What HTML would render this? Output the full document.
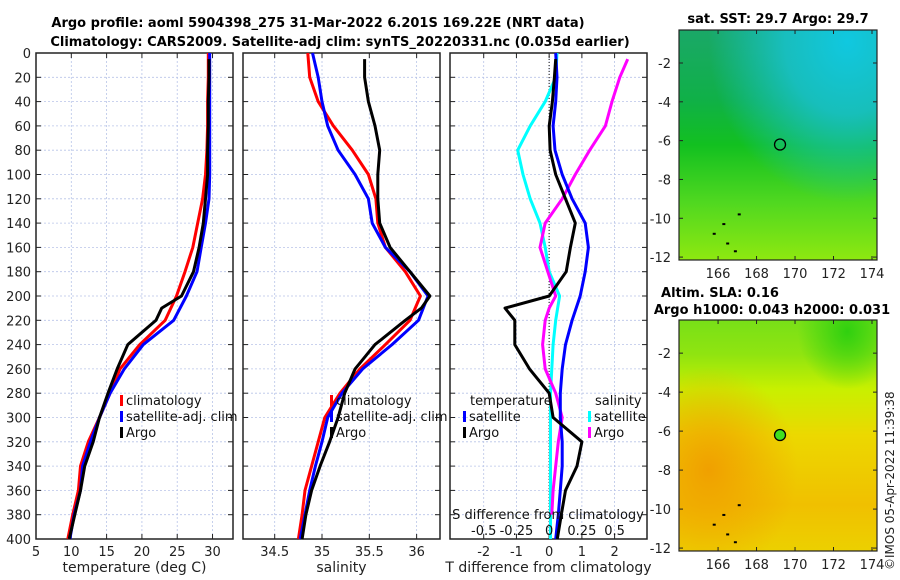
<!DOCTYPE html>
<html><head><meta charset="utf-8"><style>
body{margin:0;background:#fff;}
svg{display:block;font-family:"DejaVu Sans","Liberation Sans",sans-serif;}
</style></head><body>
<svg id="chart" width="900" height="580" viewBox="0 0 900 580" xmlns="http://www.w3.org/2000/svg">
<defs>
<linearGradient id="sstBase" x1="0" y1="0" x2="0" y2="1">
<stop offset="0" stop-color="#1aa868"/><stop offset="0.3" stop-color="#10b048"/><stop offset="0.5" stop-color="#12c020"/><stop offset="0.75" stop-color="#50d820"/><stop offset="1" stop-color="#8ee810"/></linearGradient>
<radialGradient id="sstCyan" cx="0.85" cy="0.05" r="0.7"><stop offset="0" stop-color="#10c8e0"/><stop offset="0.45" stop-color="#18c0c8" stop-opacity="0.9"/><stop offset="1" stop-color="#18c0c8" stop-opacity="0"/></radialGradient>
<linearGradient id="slaBase" x1="0" y1="0" x2="0" y2="1">
<stop offset="0" stop-color="#78e018"/><stop offset="0.15" stop-color="#90e410"/><stop offset="0.3" stop-color="#c8f000"/><stop offset="0.5" stop-color="#ecd800"/><stop offset="0.8" stop-color="#f0c000"/><stop offset="1" stop-color="#ecd000"/></linearGradient>
<radialGradient id="slaOrange" cx="0.15" cy="0.65" r="0.45"><stop offset="0" stop-color="#f0a000"/><stop offset="1" stop-color="#f0a000" stop-opacity="0"/></radialGradient>
<radialGradient id="slaGreen" cx="0.85" cy="0.05" r="0.25"><stop offset="0" stop-color="#30d010"/><stop offset="1" stop-color="#30d010" stop-opacity="0"/></radialGradient>
</defs>
<g id="titles" font-weight="bold" font-size="13" text-anchor="middle">
<text x="318" y="27">Argo profile: aoml 5904398_275 31-Mar-2022 6.201S 169.22E (NRT data)</text>
<text x="340" y="46">Climatology: CARS2009. Satellite-adj clim: synTS_20220331.nc (0.035d earlier)</text>
<text x="778" y="23">sat. SST: 29.7 Argo: 29.7</text>
<text x="720" y="297">Altim. SLA: 0.16</text>
<text x="772" y="314">Argo h1000: 0.043 h2000: 0.031</text>
</g>
<g id="maps"></g>
<g id="panels"></g>
<text transform="translate(894,570) rotate(-90)" font-size="12" fill="#222">©IMOS 05-Apr-2022 11:39:38</text>
</svg>
<script>
const depths=[0,20,40,60,80,100,120,140,160,180,200,220,240,260,280,300,320,340,360,380,400];
const tempClim=[29.4,29.4,29.3,29.3,29.2,29.0,28.6,27.9,27.2,26.1,24.9,23.3,19.7,16.9,15.5,14.0,12.4,11.3,11.0,10.2,9.5];
const tempSat=[29.6,29.6,29.6,29.6,29.6,29.6,29.5,29.0,28.4,27.8,26.3,24.5,20.2,17.5,15.5,14.0,12.7,11.6,11.3,10.4,9.8];
const argoDepths=[5,20,40,60,80,100,120,140,160,180,200,210,220,240,260,280,300,320,340,360,380,400];
const tempArgo=[29.5,29.5,29.4,29.4,29.3,29.3,29.0,28.7,28.1,27.3,25.6,22.8,22.0,18.0,16.5,15.2,14.0,13.1,11.9,11.3,10.5,9.7];
const salClim=[34.85,34.87,34.96,35.12,35.32,35.49,35.57,35.59,35.67,35.88,36.04,35.93,35.67,35.40,35.19,35.03,34.96,34.89,34.82,34.79,34.75];
const salSat=[34.90,34.96,35.00,35.06,35.17,35.35,35.49,35.53,35.67,35.93,36.12,36.02,35.74,35.43,35.21,35.06,35.00,34.93,34.87,34.82,34.77];
const salArgo=[35.45,35.45,35.49,35.56,35.61,35.59,35.59,35.61,35.72,35.93,36.14,36.05,35.88,35.56,35.35,35.24,35.17,35.08,34.98,34.89,34.83,34.79];
const dTSat=[0.2,0.24,0.2,0.12,0.18,0.4,0.7,1.1,1.2,1.1,0.95,0.7,0.5,0.4,0.34,0.34,0.4,0.4,0.34,0.28,0.2];
const dTArgo=[0.2,0.16,0.1,0.0,0.03,0.2,0.5,0.8,0.65,0.52,0.0,-1.35,-1.05,-1.05,-0.6,0.0,0.12,1.0,0.85,0.5,0.37,0.25];
const dSSat=[0.06,0.05,-0.03,-0.145,-0.24,-0.2,-0.145,-0.07,-0.03,0.0,0.08,0.05,0.03,0.02,0.01,0.01,0.01,0.01,0.01,0.01,0.01];
const dSArgo=[0.6,0.54,0.48,0.43,0.31,0.2,0.1,-0.03,-0.07,-0.01,0.05,0.0,-0.03,-0.05,-0.03,0.05,0.1,0.07,0.05,0.03,0.02];
const tTicks=[5,10,15,20,25,30];
const sTicks=[34.5,35,35.5,36];
const dTTicks=[-2,-1,0,1,2];
const dSTicks=[-0.5,-0.25,0,0.25,0.5];
const dSTickLabels=["-0.5","-0.25","0","0.25","0.5"];
const depthTicks=[0,20,40,60,80,100,120,140,160,180,200,220,240,260,280,300,320,340,360,380,400];
const latTicks=[-2,-4,-6,-8,-10,-12];
const lonTicks=[166,168,170,172,174];
const argoLon=169.22, argoLat=-6.201;

const NS="http://www.w3.org/2000/svg";
function mk(tag,attrs,parent,txt){const e=document.createElementNS(NS,tag);for(const k in attrs)e.setAttribute(k,attrs[k]);if(txt!==undefined)e.textContent=txt;parent.appendChild(e);return e;}
const PT=53,PB=539;
const yD=d=>PT+(d/400)*(PB-PT);
const panels=document.getElementById('panels');
function panel(name,x0,x1,vmin,vmax,ticks,labels,xlabel,showY){
  const g=mk('g',{},panels);
  
  
  const sx=v=>x0+(v-vmin)/(vmax-vmin)*(x1-x0);
  depthTicks.forEach(d=>{const l=mk('line',{x1:x0,x2:x1,y1:yD(d),y2:yD(d),stroke:'#b8c4e8','stroke-width':0.8,'stroke-dasharray':'2,2'},g);
    
    mk('line',{x1:x0,x2:x0+5,y1:yD(d),y2:yD(d),stroke:'#222'},g);mk('line',{x1:x1-5,x2:x1,y1:yD(d),y2:yD(d),stroke:'#222'},g);
    if(showY){const t=mk('text',{x:x0-5,y:yD(d)+5,'font-size':13,'text-anchor':'end',fill:'#222'},g,String(d));}
  });
  ticks.forEach((v,i)=>{const x=sx(v);
    const l=mk('line',{x1:x,x2:x,y1:PT,y2:PB,stroke:'#b8c4e8','stroke-width':0.8,'stroke-dasharray':'2,2'},g);
    
    mk('line',{x1:x,x2:x,y1:PT,y2:PT+5,stroke:'#222'},g);mk('line',{x1:x,x2:x,y1:PB-5,y2:PB,stroke:'#222'},g);
    const t=mk('text',{x:x,y:PB+17,'font-size':13,'text-anchor':'middle',fill:'#222'},g,labels[i]);
    
  });
  const xt=mk('text',{x:(x0+x1)/2,y:PB+33,'font-size':14,'text-anchor':'middle',fill:'#222'},g,xlabel);
  
  const r=mk('rect',{x:x0,y:PT,width:x1-x0,height:PB-PT,fill:'none',stroke:'#222','stroke-width':1.5},g);
  
  return {g,sx};
}
function line(p,vals,ds,color,name,sx){
  const pts=vals.map((v,i)=>sx(v).toFixed(1)+','+yD(ds[i]).toFixed(1)).join(' ');
  const l=mk('polyline',{points:pts,fill:'none',stroke:color,'stroke-width':3,'stroke-linejoin':'round'},p.g);
  
}
function legend(g,x,y,color,label,name){
  const m=mk('rect',{x:x,y:y-10,width:3,height:11,fill:color},g);
  
  const t=mk('text',{x:x+6,y:y,'font-size':13,fill:'#111'},g,label);
  
}
// Panel 1 temperature
const p1=panel('temperature-panel',36,233,5,32.9,tTicks,tTicks.map(String),'temperature (deg C)',true);
line(p1,tempClim,depths,'#ff0000','temp-climatology-line',p1.sx);
line(p1,tempSat,depths,'#0000ff','temp-satellite-line',p1.sx);
line(p1,tempArgo,argoDepths,'#000000','temp-argo-line',p1.sx);
legend(p1.g,120,405,'#ff0000','climatology','legend-climatology');
legend(p1.g,120,421,'#0000ff','satellite-adj. clim','legend-satellite');
legend(p1.g,120,437,'#000000','Argo','legend-argo');
// Panel 2 salinity
const p2=panel('salinity-panel',243,440,34.165,36.247,sTicks,sTicks.map(String),'salinity',false);
line(p2,salClim,depths,'#ff0000','sal-climatology-line',p2.sx);
line(p2,salSat,depths,'#0000ff','sal-satellite-line',p2.sx);
line(p2,salArgo,argoDepths,'#000000','sal-argo-line',p2.sx);
legend(p2.g,330,405,'#ff0000','climatology','legend-climatology');
legend(p2.g,330,421,'#0000ff','satellite-adj. clim','legend-satellite');
legend(p2.g,330,437,'#000000','Argo','legend-argo');
// Panel 3 differences
const p3=panel('difference-panel',450,647,-3.03,2.99,dTTicks,dTTicks.map(String),'T difference from climatology',false);
const sxS=v=>p3.sx(v*4);
const zl=mk('line',{x1:p3.sx(0),x2:p3.sx(0),y1:PT,y2:PB,stroke:'#333','stroke-width':1.2,'stroke-dasharray':'1,2'},p3.g);

line(p3,dSSat,depths,'#00ffff','sal-diff-satellite-line',sxS);
line(p3,dSArgo,argoDepths,'#ff00ff','sal-diff-argo-line',sxS);
line(p3,dTSat,depths,'#0000ff','temp-diff-satellite-line',p3.sx);
line(p3,dTArgo,argoDepths,'#000000','temp-diff-argo-line',p3.sx);
const st=mk('text',{x:548,y:519,'font-size':13,'text-anchor':'middle',fill:'#111'},p3.g,'S difference from climatology');

dSTicks.forEach((v,i)=>{const t=mk('text',{x:sxS(v),y:535,'font-size':13,'text-anchor':'middle',fill:'#111'},p3.g,dSTickLabels[i]);
  });
const lt=mk('text',{x:470,y:405,'font-size':13,fill:'#111'},p3.g,'temperature');
const ls=mk('text',{x:595,y:405,'font-size':13,fill:'#111'},p3.g,'salinity');
legend(p3.g,463,421,'#0000ff','satellite','legend-temp-satellite');
legend(p3.g,463,437,'#000000','Argo','legend-temp-argo');
legend(p3.g,588,421,'#00ffff','satellite','legend-sal-satellite');
legend(p3.g,588,437,'#ff00ff','Argo','legend-sal-argo');
// Maps
const maps=document.getElementById('maps');
function map(name,y0,y1,fills,dotFill){
  const g=mk('g',{},maps);
  
  
  const x0=679,x1=877,lonMin=163.97,lonMax=174.26,latTop=-0.3,latBot=-12.15;
  const sx=v=>x0+(v-lonMin)/(lonMax-lonMin)*(x1-x0);
  const sy=v=>y0+(v-latTop)/(latBot-latTop)*(y1-y0);
  fills.forEach(f=>mk('rect',{x:x0,y:y0,width:x1-x0,height:y1-y0,fill:f},g));
  latTicks.forEach(v=>{mk('line',{x1:x0,x2:x0+4,y1:sy(v),y2:sy(v),stroke:'#222'},g);mk('line',{x1:x1-4,x2:x1,y1:sy(v),y2:sy(v),stroke:'#222'},g);
    const t=mk('text',{x:x0-8,y:sy(v)+5,'font-size':13,'text-anchor':'end',fill:'#222'},g,String(v));});
  lonTicks.forEach(v=>{mk('line',{x1:sx(v),x2:sx(v),y1:y1-4,y2:y1,stroke:'#222'},g);mk('line',{x1:sx(v),x2:sx(v),y1:y0,y2:y0+4,stroke:'#222'},g);
    const t=mk('text',{x:sx(v),y:y1+18,'font-size':13,'text-anchor':'middle',fill:'#222'},g,String(v));});
  const c=mk('circle',{cx:sx(argoLon),cy:sy(argoLat),r:5.5,fill:dotFill,stroke:'#000','stroke-width':1.3},g);
  
  [[165.8,-10.8],[166.3,-10.3],[166.5,-11.3],[166.9,-11.7],[167.1,-9.8]].forEach(p=>mk('rect',{x:sx(p[0])-1.5,y:sy(p[1])-1,width:3,height:2,fill:'#000'},g));
  mk('rect',{x:x0,y:y0,width:x1-x0,height:y1-y0,fill:'none',stroke:'#222','stroke-width':1.2},g);
}
map('sst-map',30,260,['url(#sstBase)','url(#sstCyan)'],'none');
map('sla-map',320,551,['url(#slaBase)','url(#slaOrange)','url(#slaGreen)'],'#40e020');
</script>
</body></html>
